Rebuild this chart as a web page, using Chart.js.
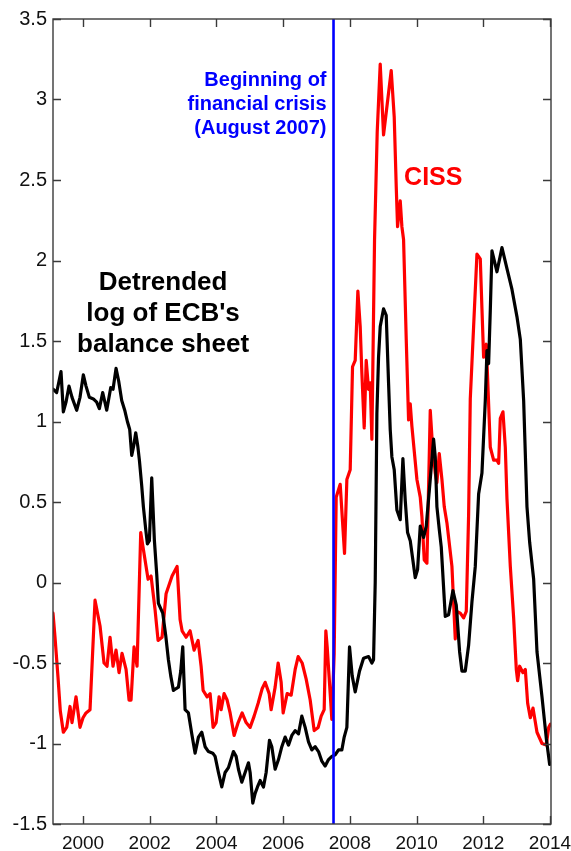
<!DOCTYPE html>
<html>
<head>
<meta charset="utf-8">
<script src="https://cdn.jsdelivr.net/npm/chart.js@4.4.1/dist/chart.umd.min.js"></script>
<style>
  html, body { margin: 0; padding: 0; background: #ffffff; }
  #wrap { width: 571px; height: 851px; }
</style>
</head>
<body>
<div id="wrap"><canvas id="chart" width="571" height="851"></canvas></div>
<script>
// Detrended log of the ECB's balance sheet (decimal years / values)
const ecbYears = [
  1999.11, 1999.21, 1999.28, 1999.34, 1999.41, 1999.49, 1999.58, 1999.67, 1999.81, 1999.91,
  2000.01, 2000.09, 2000.19, 2000.31, 2000.41, 2000.49, 2000.59, 2000.71, 2000.83, 2000.90,
  2000.99, 2001.07, 2001.16, 2001.25, 2001.33, 2001.40, 2001.46, 2001.52, 2001.58, 2001.64,
  2001.69, 2001.76, 2001.81, 2001.88, 2001.93, 2001.99, 2002.06, 2002.14, 2002.21, 2002.26,
  2002.39, 2002.48, 2002.56, 2002.63, 2002.71, 2002.78, 2002.86, 2002.93, 2002.99, 2003.06,
  2003.16, 2003.26, 2003.36, 2003.46, 2003.56, 2003.66, 2003.76, 2003.89, 2003.96, 2004.06,
  2004.16, 2004.26, 2004.36, 2004.51, 2004.59, 2004.66, 2004.76, 2004.86, 2004.96, 2005.01,
  2005.09, 2005.16, 2005.23, 2005.31, 2005.41, 2005.49, 2005.59, 2005.66, 2005.76, 2005.86,
  2005.96, 2006.06, 2006.16, 2006.26, 2006.36, 2006.46, 2006.56, 2006.66, 2006.76, 2006.86,
  2006.96, 2007.06, 2007.16, 2007.26, 2007.36, 2007.46, 2007.56, 2007.66, 2007.76, 2007.83,
  2007.91, 2007.99, 2008.07, 2008.16, 2008.29, 2008.41, 2008.56, 2008.66, 2008.71, 2008.76,
  2008.81, 2008.86, 2008.91, 2009.01, 2009.09, 2009.16, 2009.21, 2009.26, 2009.33, 2009.41,
  2009.51, 2009.59, 2009.66, 2009.73, 2009.81, 2009.96, 2010.03, 2010.11, 2010.21, 2010.29,
  2010.41, 2010.51, 2010.56, 2010.61, 2010.68, 2010.74, 2010.86, 2010.96, 2011.09, 2011.19,
  2011.29, 2011.36, 2011.46, 2011.56, 2011.66, 2011.76, 2011.86, 2011.96, 2012.06, 2012.11,
  2012.16, 2012.21, 2012.26, 2012.41, 2012.56, 2012.71, 2012.86, 2013.01, 2013.11, 2013.21,
  2013.31, 2013.39, 2013.51, 2013.61, 2013.76, 2013.89, 2013.99
];
const ecbValues = [
  1.20, 1.18, 1.25, 1.31, 1.06, 1.12, 1.22, 1.15, 1.07, 1.15,
  1.29, 1.22, 1.15, 1.14, 1.12, 1.08, 1.18, 1.07, 1.21, 1.20,
  1.33, 1.25, 1.13, 1.07, 1.00, 0.95, 0.79, 0.85, 0.93, 0.85,
  0.76, 0.60, 0.47, 0.33, 0.24, 0.26, 0.65, 0.26, 0.05, -0.13,
  -0.19, -0.33, -0.48, -0.58, -0.67, -0.66, -0.65, -0.55, -0.40, -0.79,
  -0.81, -0.94, -1.06, -0.96, -0.93, -1.02, -1.05, -1.06, -1.08, -1.18,
  -1.27, -1.18, -1.15, -1.05, -1.08, -1.16, -1.24, -1.18, -1.12, -1.18,
  -1.37, -1.31, -1.27, -1.23, -1.27, -1.18, -0.98, -1.02, -1.16, -1.10,
  -1.02, -0.96, -1.01, -0.95, -0.92, -0.94, -0.83, -0.90, -0.99, -1.04,
  -1.02, -1.05, -1.11, -1.14, -1.10, -1.08, -1.07, -1.04, -1.04, -0.96,
  -0.90, -0.40, -0.58, -0.68, -0.55, -0.47, -0.46, -0.50, -0.48, 0.00,
  1.05, 1.40, 1.59, 1.70, 1.66, 1.24, 0.95, 0.78, 0.70, 0.45,
  0.39, 0.77, 0.51, 0.31, 0.26, 0.03, 0.08, 0.35, 0.28, 0.35,
  0.64, 0.89, 0.78, 0.47, 0.33, 0.22, -0.21, -0.20, -0.05, -0.14,
  -0.43, -0.55, -0.55, -0.39, -0.12, 0.10, 0.55, 0.68, 1.13, 1.44,
  1.36, 1.69, 2.06, 1.93, 2.08, 1.95, 1.82, 1.65, 1.51, 1.13,
  0.47, 0.25, 0.02, -0.43, -0.71, -0.97, -1.13
];

// Composite Indicator of Systemic Stress (decimal years / values)
const cissYears = [
  1999.10, 1999.16, 1999.25, 1999.32, 1999.41, 1999.51, 1999.61, 1999.67, 1999.79, 1999.91,
  2000.00, 2000.09, 2000.21, 2000.36, 2000.51, 2000.63, 2000.72, 2000.81, 2000.90, 2000.99,
  2001.08, 2001.17, 2001.29, 2001.38, 2001.44, 2001.53, 2001.62, 2001.73, 2001.86, 2001.95,
  2002.04, 2002.16, 2002.25, 2002.37, 2002.49, 2002.67, 2002.82, 2002.91, 2002.97, 2003.09,
  2003.21, 2003.33, 2003.45, 2003.54, 2003.60, 2003.72, 2003.81, 2003.90, 2003.99, 2004.08,
  2004.14, 2004.23, 2004.32, 2004.41, 2004.53, 2004.65, 2004.77, 2004.89, 2005.01, 2005.13,
  2005.25, 2005.37, 2005.46, 2005.58, 2005.64, 2005.76, 2005.85, 2005.94, 2006.00, 2006.12,
  2006.24, 2006.36, 2006.45, 2006.57, 2006.69, 2006.81, 2006.93, 2007.05, 2007.14, 2007.23,
  2007.28, 2007.32, 2007.41, 2007.46, 2007.53, 2007.59, 2007.71, 2007.84, 2007.91, 2008.01,
  2008.08, 2008.16, 2008.24, 2008.31, 2008.36, 2008.43, 2008.49, 2008.56, 2008.61, 2008.66,
  2008.74, 2008.82, 2008.91, 2009.01, 2009.24, 2009.33, 2009.39, 2009.43, 2009.51, 2009.56,
  2009.61, 2009.69, 2009.76, 2009.81, 2009.86, 2010.01, 2010.11, 2010.16, 2010.23, 2010.31,
  2010.41, 2010.48, 2010.56, 2010.61, 2010.68, 2010.76, 2010.83, 2010.91, 2011.06, 2011.16,
  2011.21, 2011.31, 2011.41, 2011.49, 2011.56, 2011.61, 2011.71, 2011.81, 2011.91, 2011.96,
  2012.01, 2012.09, 2012.13, 2012.21, 2012.31, 2012.41, 2012.46, 2012.51, 2012.59, 2012.66,
  2012.71, 2012.81, 2012.91, 2012.99, 2013.03, 2013.09, 2013.19, 2013.26, 2013.33, 2013.41,
  2013.49, 2013.61, 2013.76, 2013.89, 2013.96, 2014.01
];
const cissValues = [
  -0.19, -0.34, -0.59, -0.80, -0.93, -0.90, -0.77, -0.87, -0.71, -0.90,
  -0.84, -0.81, -0.79, -0.11, -0.27, -0.50, -0.52, -0.34, -0.52, -0.42,
  -0.56, -0.44, -0.54, -0.73, -0.73, -0.40, -0.52, 0.31, 0.14, 0.02,
  0.04, -0.17, -0.36, -0.34, -0.07, 0.04, 0.10, -0.23, -0.30, -0.34,
  -0.30, -0.42, -0.36, -0.52, -0.67, -0.71, -0.69, -0.90, -0.87, -0.71,
  -0.79, -0.69, -0.73, -0.81, -0.95, -0.87, -0.81, -0.87, -0.90, -0.83,
  -0.75, -0.66, -0.62, -0.69, -0.79, -0.65, -0.50, -0.62, -0.81, -0.69,
  -0.70, -0.54, -0.46, -0.50, -0.60, -0.73, -0.92, -0.90, -0.83, -0.79,
  -0.30, -0.40, -0.69, -0.85, -0.44, 0.53, 0.61, 0.18, 0.64, 0.70,
  1.34, 1.38, 1.81, 1.59, 1.30, 0.96, 1.38, 1.20, 1.24, 0.89,
  2.13, 2.80, 3.22, 2.78, 3.18, 2.89, 2.46, 2.21, 2.37, 2.21,
  2.13, 1.51, 1.01, 1.11, 0.97, 0.64, 0.53, 0.41, 0.14, 0.12,
  1.07, 0.84, 0.68, 0.62, 0.80, 0.64, 0.47, 0.37, 0.10, -0.35,
  -0.18, -0.19, -0.22, -0.18, 0.42, 1.14, 1.59, 2.04, 2.01, 1.70,
  1.40, 1.48, 1.27, 0.84, 0.76, 0.76, 0.74, 1.02, 1.06, 0.84,
  0.52, 0.10, -0.22, -0.54, -0.61, -0.52, -0.56, -0.54, -0.75, -0.84,
  -0.78, -0.93, -1.00, -1.01, -0.90, -0.88
];

// Axis ticks
const xTickYears = [2000, 2002, 2004, 2006, 2008, 2010, 2012, 2014];
const yTickValues = [-1.5, -1, -0.5, 0, 0.5, 1, 1.5, 2, 2.5, 3, 3.5];

// Start of the financial crisis (August 2007)
const crisisYear = 2007.51;
const crisisLabel = ['Beginning of', 'financial crisis', '(August 2007)'];
const cissLabel = ['CISS'];
const ecbLabel = ['Detrended', "log of ECB's", 'balance sheet'];

const FONT = "'Liberation Sans', Arial, Helvetica, sans-serif";

const toPoints = (xs, ys) => xs.map((x, i) => ({ x: x, y: ys[i] }));

// Box frame with inward tick marks on all four sides, plus the crisis marker
const framePlugin = {
  id: 'frame',
  afterDatasetsDraw(chart) {
    const { ctx, chartArea: a, scales } = chart;
    const xs = scales.x, ys = scales.y;
    ctx.save();

    // crisis marker
    const cx = xs.getPixelForValue(crisisYear);
    ctx.strokeStyle = '#0000ff';
    ctx.lineWidth = 2.6;
    ctx.beginPath();
    ctx.moveTo(cx, a.top);
    ctx.lineTo(cx, a.bottom);
    ctx.stroke();

    // frame
    ctx.strokeStyle = '#3a3a3a';
    ctx.lineWidth = 1.4;
    ctx.strokeRect(a.left, a.top, a.right - a.left, a.bottom - a.top);

    const tl = 8;
    ctx.beginPath();
    xTickYears.forEach(v => {
      const px = Math.round(xs.getPixelForValue(v)) + 0.5;
      ctx.moveTo(px, a.bottom); ctx.lineTo(px, a.bottom - tl);
      ctx.moveTo(px, a.top); ctx.lineTo(px, a.top + tl);
    });
    yTickValues.forEach(v => {
      const py = Math.round(ys.getPixelForValue(v)) + 0.5;
      ctx.moveTo(a.left, py); ctx.lineTo(a.left + tl, py);
      ctx.moveTo(a.right, py); ctx.lineTo(a.right - tl, py);
    });
    ctx.stroke();
    ctx.restore();
  }
};

// Text notes placed in data coordinates
const notesPlugin = {
  id: 'notes',
  afterDraw(chart) {
    const { ctx, scales } = chart;
    const xs = scales.x, ys = scales.y;
    const draw = (lines, xVal, yVal, opts) => {
      ctx.save();
      ctx.font = 'bold ' + opts.size + 'px ' + FONT;
      ctx.fillStyle = opts.color;
      ctx.textAlign = opts.align;
      ctx.textBaseline = 'middle';
      const x = xs.getPixelForValue(xVal) + (opts.dx || 0);
      const y0 = ys.getPixelForValue(yVal);
      lines.forEach((t, i) => ctx.fillText(t, x, y0 + i * opts.lineGap));
      ctx.restore();
    };
    draw(crisisLabel, crisisYear, 3.12, { size: 20, color: '#0000ff', align: 'right', dx: -7, lineGap: 24 });
    draw(cissLabel, 2010.5, 2.51, { size: 25, color: '#ff0000', align: 'center', lineGap: 30 });
    draw(ecbLabel, 2002.4, 1.86, { size: 26, color: '#000000', align: 'center', lineGap: 31 });
  }
};

new Chart(document.getElementById('chart'), {
  type: 'line',
  data: {
    datasets: [
      {
        label: "Detrended log of ECB's balance sheet",
        data: toPoints(ecbYears, ecbValues),
        borderColor: '#000000',
        borderWidth: 3.2,
        pointRadius: 0,
        tension: 0,
        borderJoinStyle: 'round',
        borderCapStyle: 'round'
      },
      {
        label: 'CISS',
        data: toPoints(cissYears, cissValues),
        borderColor: '#ff0000',
        borderWidth: 3.2,
        pointRadius: 0,
        tension: 0,
        borderJoinStyle: 'round',
        borderCapStyle: 'round'
      }
    ]
  },
  options: {
    responsive: false,
    devicePixelRatio: 1,
    animation: false,
    events: [],
    layout: { padding: { top: 19, right: 20, bottom: 0, left: 0 } },
    plugins: { legend: { display: false }, title: { display: false }, tooltip: { enabled: false } },
    scales: {
      x: {
        type: 'linear',
        min: 1999.1,
        max: 2014.03,
        afterBuildTicks(scale) { scale.ticks = xTickYears.map(v => ({ value: v })); },
        afterFit(scale) { scale.height = 27; scale.paddingLeft = 0; scale.paddingRight = 0; },
        grid: { display: false, drawTicks: false },
        border: { display: false },
        ticks: {
          autoSkip: false,
          maxRotation: 0,
          padding: 8,
          color: '#111111',
          font: { family: FONT, size: 19 },
          callback: v => String(v)
        }
      },
      y: {
        type: 'linear',
        min: -1.5,
        max: 3.5,
        afterBuildTicks(scale) { scale.ticks = yTickValues.map(v => ({ value: v })); },
        afterFit(scale) { scale.width = 53; scale.paddingTop = 0; scale.paddingBottom = 0; },
        grid: { display: false, drawTicks: false },
        border: { display: false },
        ticks: {
          autoSkip: false,
          padding: 6,
          color: '#111111',
          font: { family: FONT, size: 20 },
          callback: v => String(v)
        }
      }
    }
  },
  plugins: [framePlugin, notesPlugin]
});
</script>
</body>
</html>
